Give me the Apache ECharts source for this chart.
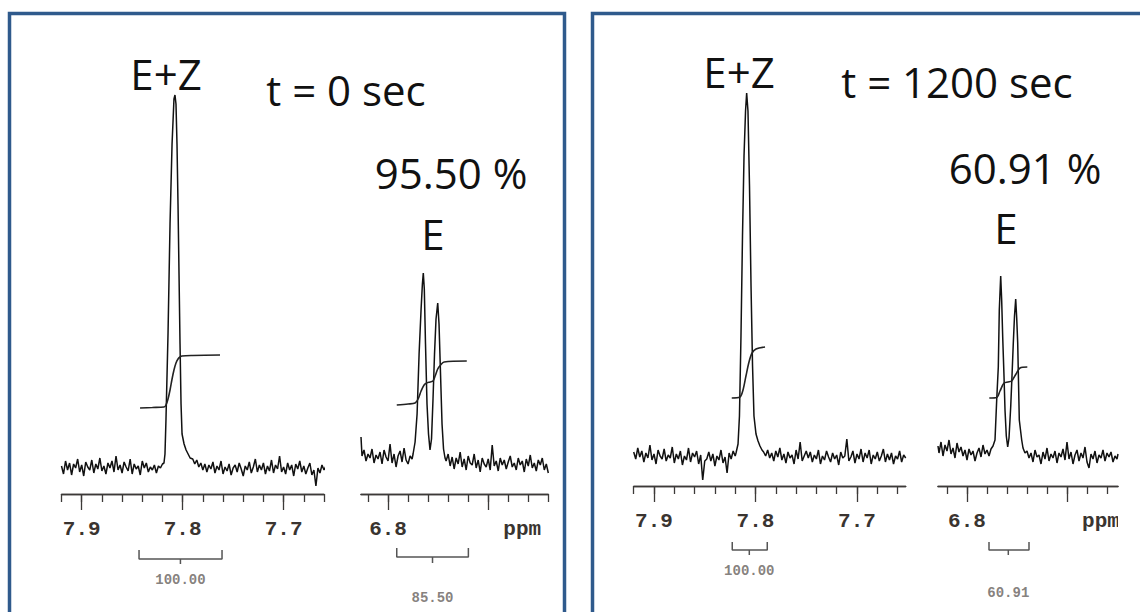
<!DOCTYPE html>
<html>
<head>
<meta charset="utf-8">
<script src="https://cdn.jsdelivr.net/npm/echarts@6/dist/echarts.min.js"></script>
<style>html,body{margin:0;padding:0;background:#fff;}#c{width:1140px;height:612px;}</style>
</head>
<body>
<div id="c"></div>
<script>
// ---------- DATA (ppm, intensity) ----------
// Left panel (t = 0 sec), 7.8 ppm region
const specLeftA = [
[7.920,28],[7.918,20],[7.916,33],[7.914,24],[7.912,31],[7.910,19],[7.908,30],[7.906,26],[7.904,35],[7.902,22],[7.900,29],[7.898,18],[7.896,32],[7.894,27],[7.892,24],[7.890,34],[7.888,21],[7.886,30],[7.884,25],[7.882,36],[7.880,23],[7.878,28],[7.876,20],[7.874,31],[7.872,26],[7.870,33],[7.868,22],[7.866,38],[7.864,24],[7.862,29],[7.860,21],[7.858,32],[7.856,27],[7.854,23],[7.852,35],[7.850,20],[7.848,30],[7.846,25],[7.844,28],[7.842,19],[7.840,33],[7.838,26],[7.836,31],[7.834,22],[7.832,27],[7.830,24],[7.828,29],[7.826,21],[7.824,28],[7.822,26],[7.820,30],
[7.8185,31],[7.8175,40],[7.8165,75],[7.8145,160],[7.8125,270],[7.8105,350],[7.8086,395],[7.8076,399],[7.8066,390],[7.8056,350],[7.8046,290],[7.8036,220],[7.8026,150],[7.8016,90],[7.8006,60],[7.7986,50],[7.7966,44],[7.7946,40],[7.7926,36],
[7.790,35],[7.788,30],[7.786,34],[7.784,27],[7.782,31],[7.780,24],[7.778,30],[7.776,22],[7.774,29],[7.772,25],[7.770,32],[7.768,21],[7.766,28],[7.764,24],[7.762,33],[7.760,20],[7.758,27],[7.756,23],[7.754,30],[7.752,19],[7.750,26],[7.748,29],[7.746,22],[7.744,31],[7.742,25],[7.740,18],[7.738,28],[7.736,24],[7.734,32],[7.732,21],[7.730,27],[7.728,35],[7.726,22],[7.724,29],[7.722,24],[7.720,31],[7.718,20],[7.716,28],[7.714,23],[7.712,34],[7.710,21],[7.708,29],[7.706,25],[7.704,38],[7.702,22],[7.700,27],[7.698,20],[7.696,31],[7.694,24],[7.692,29],[7.690,18],[7.688,30],[7.686,25],[7.684,33],[7.682,22],[7.680,28],[7.678,20],[7.676,26],[7.674,31],[7.672,19],[7.670,24],[7.668,8],[7.666,26],[7.664,21],[7.662,29],[7.660,24],[7.658,28]
];
// Left panel, 6.75 ppm region (E doublet)
const specLeftB = [
[6.827,57],[6.826,38],[6.824,44],[6.822,33],[6.820,40],[6.818,36],[6.816,45],[6.814,31],[6.812,39],[6.810,35],[6.808,42],[6.806,30],[6.804,44],[6.802,37],[6.800,33],[6.798,50],[6.796,31],[6.794,40],[6.792,27],[6.790,38],[6.788,43],[6.786,32],[6.784,46],[6.782,34],[6.780,30],[6.778,38],[6.776,35],
[6.7750,40],[6.7730,52],[6.7710,80],[6.7690,140],[6.7670,185],[6.7657,210],[6.7648,221],[6.7638,205],[6.7626,150],[6.7611,90],[6.7596,60],[6.7581,44],[6.7566,55],[6.7551,95],[6.7536,140],[6.7521,175],[6.7504,191],[6.7491,170],[6.7476,120],[6.7461,70],[6.7446,45],[6.7431,36],
[6.742,33],[6.740,40],[6.738,28],[6.736,37],[6.734,25],[6.732,36],[6.730,30],[6.728,42],[6.726,27],[6.724,35],[6.722,24],[6.720,38],[6.718,31],[6.716,29],[6.714,40],[6.712,26],[6.710,34],[6.708,22],[6.706,36],[6.704,30],[6.702,27],[6.700,35],[6.698,24],[6.696,49],[6.694,28],[6.692,33],[6.690,23],[6.688,36],[6.686,29],[6.684,34],[6.682,25],[6.680,32],[6.678,38],[6.676,27],[6.674,31],[6.672,24],[6.670,36],[6.668,29],[6.666,33],[6.664,22],[6.662,35],[6.660,28],[6.658,39],[6.656,26],[6.654,31],[6.652,23],[6.650,34],[6.648,29],[6.646,36],[6.644,24],[6.642,30],[6.640,21]
];
// Right panel (t = 1200 sec), 7.8 ppm region
const specRightA = [
[7.920,34],[7.918,27],[7.916,38],[7.914,29],[7.912,35],[7.910,24],[7.908,33],[7.906,28],[7.904,41],[7.902,26],[7.900,32],[7.898,22],[7.896,36],[7.894,30],[7.892,27],[7.890,37],[7.888,25],[7.886,31],[7.884,28],[7.882,39],[7.880,23],[7.878,32],[7.876,27],[7.874,35],[7.872,21],[7.870,30],[7.868,26],[7.866,38],[7.864,24],[7.862,33],[7.860,29],[7.858,35],[7.856,22],[7.854,31],[7.852,6],[7.850,25],[7.848,27],[7.846,34],[7.844,25],[7.842,32],[7.840,20],[7.838,30],[7.836,26],[7.834,36],[7.832,23],[7.830,29],[7.828,13],[7.826,33],[7.824,27],[7.822,35],[7.820,30],
[7.8192,33],[7.8172,42],[7.8158,70],[7.8143,150],[7.8128,250],[7.8113,330],[7.8098,375],[7.8087,393],[7.8074,375],[7.8059,300],[7.8044,200],[7.8029,120],[7.8015,70],[7.7995,52],[7.7975,45],[7.7956,40],[7.7936,36],
[7.792,34],[7.790,30],[7.788,36],[7.786,28],[7.784,33],[7.782,25],[7.780,35],[7.778,29],[7.776,38],[7.774,26],[7.772,32],[7.770,23],[7.768,34],[7.766,28],[7.764,31],[7.762,22],[7.760,36],[7.758,27],[7.756,44],[7.754,25],[7.752,30],[7.750,35],[7.748,28],[7.746,34],[7.744,24],[7.742,31],[7.740,27],[7.738,36],[7.736,22],[7.734,30],[7.732,26],[7.730,35],[7.728,29],[7.726,24],[7.724,33],[7.722,27],[7.720,31],[7.718,21],[7.716,34],[7.714,28],[7.712,30],[7.710,47],[7.708,25],[7.706,29],[7.704,35],[7.702,23],[7.700,32],[7.698,27],[7.696,37],[7.694,24],[7.692,33],[7.690,28],[7.688,36],[7.686,22],[7.684,31],[7.682,27],[7.680,34],[7.678,25],[7.676,30],[7.674,37],[7.672,24],[7.670,32],[7.668,26],[7.666,33],[7.664,22],[7.662,30],[7.660,27],[7.658,35],[7.656,24],[7.654,31],[7.652,28]
];
// Right panel, 6.75 ppm region (E doublet)
const specRightB = [
[6.829,40],[6.828,33],[6.826,44],[6.824,30],[6.822,41],[6.820,35],[6.818,46],[6.816,32],[6.814,38],[6.812,28],[6.810,43],[6.808,34],[6.806,39],[6.804,30],[6.802,36],[6.800,26],[6.798,37],[6.796,31],[6.794,35],[6.792,25],[6.790,33],[6.788,38],[6.786,29],[6.784,41],[6.782,32],[6.780,36],[6.778,30],[6.776,37],
[6.774,40],[6.772,46],[6.7703,86],[6.7687,119],[6.7677,176],[6.7663,210],[6.7653,185],[6.7643,149],[6.7630,110],[6.7620,76],[6.7607,50],[6.7593,39],[6.7580,48],[6.7563,79],[6.7550,110],[6.7537,143],[6.7525,170],[6.7513,187],[6.7503,168],[6.7493,143],[6.7477,66],[6.7453,46],[6.7440,38],[6.7420,33],
[6.740,35],[6.738,28],[6.736,33],[6.734,24],[6.732,36],[6.730,29],[6.728,31],[6.726,22],[6.724,34],[6.722,27],[6.720,38],[6.718,25],[6.716,32],[6.714,28],[6.712,35],[6.710,23],[6.708,33],[6.706,29],[6.704,37],[6.702,26],[6.700,44],[6.698,27],[6.696,34],[6.694,22],[6.692,31],[6.690,36],[6.688,25],[6.686,33],[6.684,28],[6.682,39],[6.680,24],[6.678,18],[6.676,32],[6.674,27],[6.672,35],[6.670,23],[6.668,31],[6.666,28],[6.664,36],[6.662,25],[6.660,33],[6.658,29],[6.656,34],[6.654,24],[6.652,30],[6.650,27],[6.649,32]
];

// Integral traces
const integLeftA = [[7.8422,86],[7.830,86.5],[7.8185,87],[7.8165,89],[7.8145,95],[7.8125,104],[7.8105,115],[7.8086,124],[7.8066,131],[7.8046,135],[7.8026,137],[7.8006,138],[7.790,138.5],[7.763,139]];
const integLeftB = [[6.7913,89],[6.7800,90],[6.7730,91],[6.7700,95],[6.7670,103],[6.7640,109],[6.7614,111],[6.7580,112],[6.7551,113],[6.7530,118],[6.7504,125],[6.7475,129],[6.7440,132],[6.7214,133]];
const integRightA = [[7.8234,88],[7.8153,89],[7.8123,96],[7.8094,110],[7.8064,124],[7.8034,133],[7.7995,137],[7.7906,139]];
const integRightB = [[6.7777,88],[6.7703,88.5],[6.7670,95],[6.7630,103],[6.7590,104],[6.7553,105],[6.7510,112],[6.7470,118],[6.7397,119]];

// Integral brackets: [left ppm, right ppm, centre ppm], and values shown under them
const bracketLeftA = [7.8432, 7.7610, 7.8022];
const bracketLeftB = [6.7913, 6.7198, 6.7556];
const bracketRightA = [7.8229, 7.7884, 7.8061];
const bracketRightB = [6.7780, 6.7380, 6.7587];
const integralValues = ['100.00', '85.50', '100.00', '60.91'];

// Axis ticks and labels
const minorTicksA = [7.66,7.68,7.70,7.72,7.74,7.76,7.78,7.80,7.82,7.84,7.86,7.88,7.90,7.92];
const majorTicksA = [7.7,7.8,7.9];
const labelValsA = [7.7,7.8,7.9];
const labelTextsA = ['7.7','7.8','7.9'];
const minorTicksB = [6.64,6.66,6.68,6.70,6.72,6.74,6.76,6.78,6.80,6.82];
const majorTicksB = [6.7,6.8];
const labelValsB = [6.8,6.666];
const labelTextsB = ['6.8','ppm'];

// Annotations
const panelTitles = ['t = 0 sec', 't = 1200 sec'];
const percentTexts = ['95.50 %', '60.91 %'];
const peakLabels = ['E+Z', 'E'];

// ---------- CHART ----------
const chart = echarts.init(document.getElementById('c'), null, {renderer: 'svg'});
const AX = '#3c3a38';
const gridBase = {containLabel: false, outerBoundsMode: 'none'};
const grids = [
  Object.assign({left: 61.5, top: 90, width: 262.5, height: 404}, gridBase),
  Object.assign({left: 361, top: 90, width: 187.3, height: 404}, gridBase),
  Object.assign({left: 633.7, top: 80, width: 272, height: 406}, gridBase),
  Object.assign({left: 938, top: 80, width: 180, height: 406}, gridBase)
];
const xr = [[7.66,7.92],[6.64,6.827],[7.652,7.92],[6.649,6.829]];
const yr = [[0,404],[0,404],[0,406],[0,406]];
const minorT = [minorTicksA, minorTicksB, minorTicksA, minorTicksB];
const majorT = [majorTicksA, majorTicksB, majorTicksA, majorTicksB];
const labV = [labelValsA, labelValsB, labelValsA, labelValsB];
const labT = [labelTextsA, labelTextsB, labelTextsA, labelTextsB];

const xAxis = [], yAxis = [];
for (let g = 0; g < 4; g++) {
  const mk = function () {
    return {type: 'value', gridIndex: g, min: xr[g][0], max: xr[g][1], inverse: true, position: 'bottom',
      splitLine: {show: false},
      axisLine: {show: true, onZero: false, lineStyle: {color: AX, width: 1.3}}};
  };
  xAxis.push(Object.assign(mk(), {
    axisTick: {show: true, length: 8, customValues: minorT[g], lineStyle: {color: AX, width: 1.3}},
    axisLabel: {show: false}
  }));
  const vals = labV[g], txts = labT[g];
  xAxis.push(Object.assign(mk(), {
    axisTick: {show: true, length: 16, customValues: majorT[g], lineStyle: {color: AX, width: 1.3}},
    axisLabel: {show: true, customValues: vals, margin: 25, hideOverlap: false,
      fontFamily: 'Liberation Mono', fontWeight: 'bold', fontSize: 21, color: '#3a3430',
      formatter: function (v) { for (let i = 0; i < vals.length; i++) { if (Math.abs(vals[i] - v) < 1e-6) return txts[i]; } return ''; }}
  }));
  yAxis.push({type: 'value', gridIndex: g, min: yr[g][0], max: yr[g][1], show: false});
}

const specs = [specLeftA, specLeftB, specRightA, specRightB];
const integs = [integLeftA, integLeftB, integRightA, integRightB];
const brackets = [bracketLeftA, bracketLeftB, bracketRightA, bracketRightB];
const brY = [[-56,-65,-70,-86],[-54,-63,-69,-104],[-56,-64,-69,-85],[-56,-64,-69,-107]];
const series = [];
for (let g = 0; g < 4; g++) {
  const xi = g * 2;
  series.push({type: 'line', xAxisIndex: xi, yAxisIndex: g, data: specs[g], showSymbol: false, clip: false,
    lineStyle: {color: '#111', width: 1.5}, animation: false});
  series.push({type: 'line', xAxisIndex: xi, yAxisIndex: g, data: integs[g], showSymbol: false, smooth: 0.3,
    lineStyle: {color: '#222', width: 1.6}, animation: false});
  const b = brackets[g], y = brY[g];
  series.push({type: 'line', xAxisIndex: xi, yAxisIndex: g, showSymbol: false, animation: false, clip: false,
    data: [[b[0], y[0]], [b[0], y[1]], [b[1], y[1]], [b[1], y[0]]],
    lineStyle: {color: '#555', width: 1.5}});
  series.push({type: 'line', xAxisIndex: xi, yAxisIndex: g, showSymbol: false, animation: false, clip: false,
    data: [[b[2], y[1]], [b[2], y[2]]], lineStyle: {color: '#555', width: 1.5}});
  series.push({type: 'scatter', xAxisIndex: xi, yAxisIndex: g, symbolSize: 1, animation: false, clip: false,
    itemStyle: {color: 'rgba(0,0,0,0)'}, data: [[b[2], y[3]]],
    label: {show: true, position: 'inside', formatter: integralValues[g], fontFamily: 'Liberation Mono',
      fontWeight: 'bold', fontSize: 14, color: '#66605c'}});
}

function txt(t, x, y) {
  return {type: 'text', x: x, y: y, silent: true,
    style: {text: t, fontFamily: 'Open Sans', fontSize: 42, fill: '#111', align: 'center', verticalAlign: 'middle'}};
}
const graphic = [
  {type: 'rect', shape: {x: 9.5, y: 13.5, width: 555, height: 620}, style: {fill: 'none', stroke: '#2f5a8c', lineWidth: 3.5}},
  {type: 'rect', shape: {x: 592.5, y: 13.5, width: 600, height: 620}, style: {fill: 'none', stroke: '#2f5a8c', lineWidth: 3.5}},
  {type: 'rect', shape: {x: 1118, y: 500, width: 22, height: 50}, style: {fill: '#fff'}, z: 100},
  txt(peakLabels[0], 166, 73),
  txt(panelTitles[0], 346, 89),
  txt(percentTexts[0], 451, 172),
  txt(peakLabels[1], 433, 233),
  txt(peakLabels[0], 739, 71),
  txt(panelTitles[1], 957, 81),
  txt(percentTexts[1], 1025, 167),
  txt(peakLabels[1], 1006, 227)
];

chart.setOption({
  animation: false,
  backgroundColor: '#fff',
  grid: grids,
  xAxis: xAxis,
  yAxis: yAxis,
  series: series,
  graphic: graphic
});
</script>
</body>
</html>
